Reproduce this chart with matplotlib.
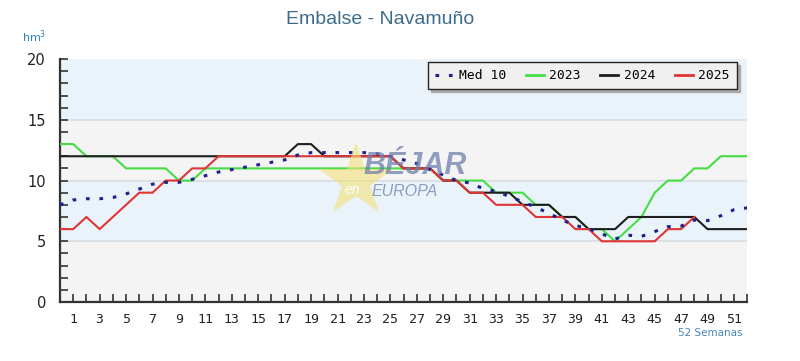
import matplotlib
matplotlib.use("Agg")
import matplotlib.pyplot as plt
from matplotlib.lines import Line2D

# ---------------- data ----------------
weeks = list(range(53))
med10 = [8.0, 8.4, 8.5, 8.5, 8.6, 8.9, 9.3, 9.7, 9.85, 9.85, 10.1, 10.4, 10.7, 10.9,
         11.1, 11.3, 11.5, 11.7, 12.1, 12.3, 12.3, 12.3, 12.3, 12.3, 12.2, 12.0, 11.7,
         11.4, 10.9, 10.45, 10.0, 9.8, 9.35, 9.1, 8.7, 8.25, 7.8, 7.3, 6.75, 6.3, 6.05,
         5.6, 5.2, 5.5, 5.4, 5.8, 6.2, 6.25, 6.75, 6.7, 7.1, 7.6, 7.75]
y2023 = [13, 13, 12, 12, 12, 11, 11, 11, 11, 10, 10, 11, 11, 11, 11, 11, 11, 11, 11,
         11, 11, 11, 11, 11, 11, 11, 11, 11, 11, 10, 10, 10, 10, 9, 9, 9, 8, 8, 7, 7,
         6, 6, 5, 6, 7, 9, 10, 10, 11, 11, 12, 12, 12]
y2024 = [12, 12, 12, 12, 12, 12, 12, 12, 12, 12, 12, 12, 12, 12, 12, 12, 12, 12, 13,
         13, 12, 12, 12, 12, 12, 12, 11, 11, 11, 10, 10, 9, 9, 9, 9, 8, 8, 8, 7, 7,
         6, 6, 6, 7, 7, 7, 7, 7, 7, 6, 6, 6, 6]
y2025 = [6, 6, 7, 6, 7, 8, 9, 9, 10, 10, 11, 11, 12, 12, 12, 12, 12, 12, 12, 12, 12,
         12, 12, 12, 12, 12, 11, 11, 11, 10, 10, 9, 9, 8, 8, 8, 7, 7, 7, 6, 6, 5, 5,
         5, 5, 5, 6, 6, 7]
series_names = ["Med 10", "2023", "2024", "2025"]
x_labels = [str(w) if w % 2 == 1 else "" for w in range(1, 53)]
y_major = [0, 5, 10, 15, 20]

# ---------------- figure ----------------
fig = plt.figure(figsize=(8, 3.61), dpi=100)
fig.patch.set_facecolor("white")
ax = fig.add_axes([0.075, 0.1634, 0.859, 0.673])
ax.set_xlim(0, 52)
ax.set_ylim(0, 20)

# background bands
band_cols = ["#f4f4f4", "#eaf3fa", "#f4f4f4", "#eaf3fa"]
for i, c in enumerate(band_cols):
    ax.axhspan(y_major[i], y_major[i + 1], color=c, zorder=0, lw=0)
for yv in y_major[1:-1]:
    ax.axhline(yv, color="#d6dde3", lw=1.2, zorder=1)

# lines
ax.plot(weeks[:len(y2023)], y2023, color="#44dd44", lw=1.5, zorder=3, label=series_names[1])
ax.plot(weeks[:len(y2024)], y2024, color="#1e1e1e", lw=1.5, zorder=4, label=series_names[2])
ax.plot(weeks[:len(y2025)], y2025, color="#e03535", lw=1.5, zorder=5, label=series_names[3])
ax.plot(weeks[:len(med10)], med10, color="#20208a", lw=2.2, ls=(0, (1.2, 3.2)),
        zorder=6, label=series_names[0])

# watermark
ax.plot([22.4], [10.0], marker="*", markersize=56, color="#f3df78", alpha=0.6,
        markeredgewidth=0, zorder=7)
ax.text(23.0, 11.2, "BÉJAR", fontsize=22, fontweight="bold", fontstyle="italic",
        family="Liberation Sans", color="#6f80ad", alpha=0.75, va="center", ha="left", zorder=8)
ax.text(23.6, 9.1, "EUROPA", fontsize=11.5, fontstyle="italic", family="Liberation Sans",
        color="#7787b5", alpha=0.8, va="center", ha="left", zorder=8)
ax.text(21.5, 9.2, "en", fontsize=10, fontstyle="italic", family="Liberation Sans",
        color="white", alpha=0.95, va="center", ha="left", zorder=8)

# axes styling
for s in ["top", "right"]:
    ax.spines[s].set_visible(False)
for s in ["left", "bottom"]:
    ax.spines[s].set_color("#333333")
    ax.spines[s].set_linewidth(1.6)

ax.set_xticks(range(1, 53))
ax.set_xticklabels(x_labels, family="DejaVu Sans Mono", fontsize=9.5, color="#222222")
ax.set_yticks(range(0, 21))
ax.set_yticklabels([str(v) if v % 5 == 0 else "" for v in range(0, 21)],
                   family="DejaVu Sans", fontsize=10.5, color="#222222")
ax.tick_params(axis="both", direction="in", length=6, width=1.2, color="#333333")
ax.tick_params(axis="x", pad=8)
ax.tick_params(axis="y", pad=10, length=6)

# legend
handles = [
    Line2D([], [], color="#20208a", lw=2.2, ls=(0, (1.2, 3.2))),
    Line2D([], [], color="#44dd44", lw=2),
    Line2D([], [], color="#1e1e1e", lw=2),
    Line2D([], [], color="#e03535", lw=2),
]
leg = ax.legend(handles, series_names, loc="upper right", bbox_to_anchor=(0.985, 0.988),
                borderaxespad=0, ncol=4, frameon=True, fancybox=False,
                shadow={"color": "#aaaaaa", "alpha": 1},
                prop={"family": "DejaVu Sans Mono", "size": 9.4}, handlelength=1.4,
                handletextpad=0.4, columnspacing=1.5, borderpad=0.55)
leg.get_frame().set_edgecolor("#222222")
leg.get_frame().set_facecolor("#f0f0f0")
leg.get_frame().set_linewidth(1.0)
leg.set_zorder(10)

# texts
fig.text(0.475, 0.945, "Embalse - Navamuño", ha="center", va="center", fontsize=14,
         family="Liberation Sans", color="#3d6b8c")
fig.text(0.027, 0.898, "hm$^3$", ha="left", va="center", fontsize=8, color="#2f7fc0")
fig.text(0.928, 0.077, "52 Semanas", ha="right", va="center", fontsize=7.5, color="#4a86b8")

fig.savefig("out.png", dpi=100)
